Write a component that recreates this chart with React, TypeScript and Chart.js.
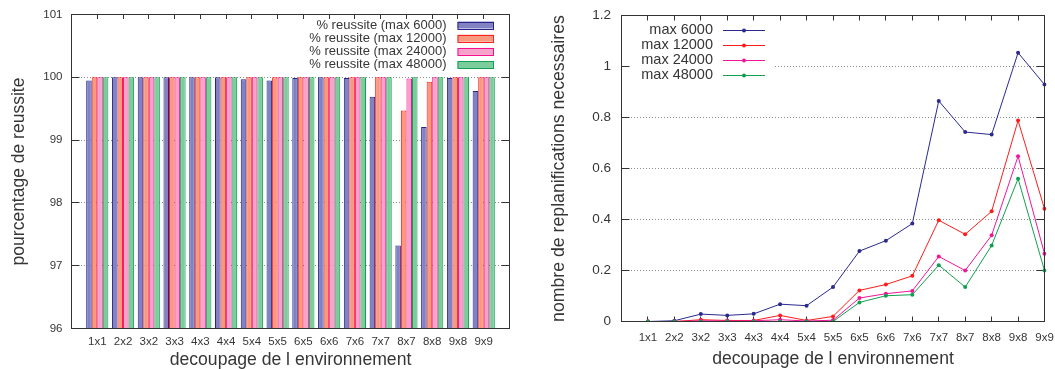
import React, { useEffect, useRef } from 'react';
import { Chart, registerables } from 'chart.js';

Chart.register(...registerables);

const categories = ['1x1', '2x2', '3x2', '3x3', '4x3', '4x4', '5x4', '5x5', '6x5', '6x6', '7x6', '7x7', '8x7', '8x8', '9x8', '9x9'];

const successNames = ['% reussite (max 6000)', '% reussite (max 12000)', '% reussite (max 24000)', '% reussite (max 48000)'];
const success6000 = [99.95, 100, 100, 100, 100, 100, 99.97, 99.95, 99.99, 100, 99.99, 99.69, 97.32, 99.21, 99.99, 99.78];
const success12000 = [100, 100, 100, 100, 100, 100, 100, 100, 100, 100, 100, 100, 99.47, 99.93, 100, 100];
const success24000 = [100, 100, 100, 100, 100, 100, 100, 100, 100, 100, 100, 100, 99.98, 100, 100, 100];
const success48000 = [100, 100, 100, 100, 100, 100, 100, 100, 100, 100, 100, 100, 100, 100, 100, 100];

const replanNames = ['max 6000', 'max 12000', 'max 24000', 'max 48000'];
const replan6000 = [0, 0.003, 0.029, 0.024, 0.03, 0.068, 0.062, 0.135, 0.276, 0.317, 0.384, 0.865, 0.743, 0.733, 1.054, 0.929];
const replan12000 = [0, 0, 0.007, 0.004, 0.004, 0.024, 0.004, 0.02, 0.122, 0.145, 0.179, 0.397, 0.342, 0.432, 0.788, 0.442];
const replan24000 = [0, 0, 0.003, 0.002, 0.003, 0.007, 0.002, 0.005, 0.092, 0.109, 0.12, 0.255, 0.2, 0.338, 0.648, 0.266];
const replan48000 = [0, 0, 0, 0, 0, 0, 0, 0, 0.075, 0.101, 0.105, 0.221, 0.135, 0.298, 0.56, 0.2];

const successAxis = { min: 96, max: 101, step: 1 };
const replanAxis = { min: 0, max: 1.2, step: 0.2 };

const FAMILY = '"Liberation Sans", Arial, Helvetica, sans-serif';
const TEXT = '#363636';

const barBorders = ['#24248c', '#ff2020', '#f5108e', '#14a050'];
const barFills = ['#8282c2', '#f79a80', '#f7a2ca', '#7ccc9c'];
const lineColors = ['#2a2a8e', '#ff1c1c', '#f0169a', '#12a050'];

type LegendSpec = {
  kind: 'box' | 'line';
  names: string[];
  colors: string[];
  fills: string[];
  textRight: number;
  x0: number;
  x1: number;
  rowY0: number;
  rowStep: number;
  fontSize: number;
  blank?: { x1: number; y0: number; y1: number };
};

function makeFramePlugin(o: { xTick: number; yTick: number; bottomTicks: boolean; legend: LegendSpec }) {
  return {
    id: 'frame',
    beforeDatasetsDraw(chart: any) {
      const ctx = chart.ctx;
      const a = chart.chartArea;
      const lg = o.legend;
      if (lg.blank) {
        ctx.save();
        ctx.fillStyle = '#ffffff';
        ctx.fillRect(a.left + 1, lg.blank.y0, lg.blank.x1 - a.left - 1, lg.blank.y1 - lg.blank.y0);
        ctx.restore();
      }
      const xs = chart.scales.x;
      const ys = chart.scales.y;
      ctx.save();
      ctx.strokeStyle = '#333';
      ctx.lineWidth = 1;
      ctx.beginPath();
      ys.ticks.forEach((t: any) => {
        if (t.value <= ys.min + 1e-9 || t.value >= ys.max - 1e-9) return;
        const y = Math.floor(ys.getPixelForValue(t.value)) + 0.5;
        ctx.moveTo(a.left, y);
        ctx.lineTo(a.left + o.yTick, y);
        ctx.moveTo(a.right, y);
        ctx.lineTo(a.right - o.yTick, y);
      });
      (chart.data.labels as string[]).forEach((l, i) => {
        if (!l) return;
        const x = Math.floor(xs.getPixelForValue(i)) + 0.5;
        ctx.moveTo(x, a.top);
        ctx.lineTo(x, a.top + o.xTick);
        if (o.bottomTicks) {
          ctx.moveTo(x, a.bottom);
          ctx.lineTo(x, a.bottom - o.xTick);
        }
      });
      ctx.stroke();
      ctx.restore();
    },
    afterDatasetsDraw(chart: any) {
      const ctx = chart.ctx;
      const a = chart.chartArea;
      ctx.save();
      ctx.strokeStyle = '#333';
      ctx.lineWidth = 1;
      ctx.strokeRect(a.left, a.top, a.right - a.left, a.bottom - a.top);
      const lg = o.legend;
      ctx.font = `${lg.fontSize}px ${FAMILY}`;
      ctx.textAlign = 'right';
      ctx.textBaseline = 'middle';
      lg.names.forEach((name, i) => {
        const y = lg.rowY0 + i * lg.rowStep;
        ctx.fillStyle = TEXT;
        ctx.fillText(name, lg.textRight, y);
        if (lg.kind === 'box') {
          ctx.fillStyle = lg.fills[i];
          ctx.fillRect(lg.x0, y - 3.5, lg.x1 - lg.x0, 7);
          ctx.strokeStyle = lg.colors[i];
          ctx.lineWidth = 1;
          ctx.strokeRect(lg.x0 + 0.5, Math.round(y - 3.5) + 0.5, lg.x1 - lg.x0 - 1, 7);
        } else {
          const yy = Math.round(y) + 0.5;
          ctx.strokeStyle = lg.colors[i];
          ctx.lineWidth = 1;
          ctx.beginPath();
          ctx.moveTo(lg.x0, yy);
          ctx.lineTo(lg.x1, yy);
          ctx.stroke();
          ctx.fillStyle = lg.colors[i];
          ctx.beginPath();
          ctx.arc((lg.x0 + lg.x1) / 2, yy, 2, 0, Math.PI * 2);
          ctx.fill();
        }
      });
      ctx.restore();
    },
  };
}

export default function App() {
  const leftRef = useRef<HTMLCanvasElement>(null);
  const rightRef = useRef<HTMLCanvasElement>(null);

  useEffect(() => {
    document.body.style.margin = '0';
    const successSeries = [success6000, success12000, success24000, success48000];
    const replanSeries = [replan6000, replan12000, replan24000, replan48000];

    const left = new Chart(leftRef.current as HTMLCanvasElement, {
      type: 'bar',
      data: {
        labels: ['', ...categories, ''],
        datasets: successSeries.map((vals, i) => ({
          label: successNames[i],
          data: [null, ...vals, null],
          backgroundColor: barFills[i],
          borderColor: barBorders[i],
          borderWidth: 1,
          categoryPercentage: 0.86,
          barPercentage: 1,
        })),
      },
      options: {
        responsive: false,
        animation: false,
        devicePixelRatio: 1,
        layout: { padding: { top: 14.5, right: 20.5, left: 0, bottom: 0 } },
        plugins: { legend: { display: false }, tooltip: { enabled: false } },
        scales: {
          x: {
            type: 'category',
            offset: false,
            grid: { display: false, drawTicks: false },
            border: { display: false },
            ticks: { autoSkip: false, maxRotation: 0, padding: 6.3, color: TEXT, font: { family: FAMILY, size: 11.5 } },
            title: {
              display: true,
              text: 'decoupage de l environnement',
              color: TEXT,
              font: { family: FAMILY, size: 17.6, lineHeight: 1 },
              padding: { top: 0, bottom: 0.3 },
            },
            afterFit: (s: any) => {
              s.height = 40.5;
              s.paddingLeft = 0;
              s.paddingRight = 0;
            },
          },
          y: {
            min: successAxis.min,
            max: successAxis.max,
            ticks: { stepSize: successAxis.step, padding: 9, color: TEXT, font: { family: FAMILY, size: 11.5 } },
            grid: { color: '#8c8c8c', drawTicks: false, lineWidth: 1 },
            border: { display: false, dash: [1, 2] },
            title: {
              display: true,
              text: 'pourcentage de reussite',
              color: TEXT,
              font: { family: FAMILY, size: 17.5, lineHeight: 1.2 },
              padding: { top: 8.5, bottom: 0 },
            },
            afterFit: (s: any) => {
              s.width = 71.5;
              s.paddingTop = 0;
              s.paddingBottom = 0;
            },
          },
        },
      } as any,
      plugins: [
        makeFramePlugin({
          xTick: 4.5,
          yTick: 8,
          bottomTicks: false,
          legend: {
            kind: 'box',
            names: successNames,
            colors: barBorders,
            fills: barFills,
            textRight: 446.5,
            x0: 457.5,
            x1: 494,
            rowY0: 25,
            rowStep: 13.2,
            fontSize: 13,
          },
        }),
      ],
    });

    const right = new Chart(rightRef.current as HTMLCanvasElement, {
      type: 'line',
      data: {
        labels: ['', ...categories],
        datasets: replanSeries.map((vals, i) => ({
          label: replanNames[i],
          data: [null, ...vals],
          borderColor: lineColors[i],
          backgroundColor: lineColors[i],
          borderWidth: 1,
          pointRadius: 2,
          pointBorderWidth: 0,
          pointBackgroundColor: lineColors[i],
          pointHoverRadius: 0,
          tension: 0,
          fill: false,
          order: 3 - i,
        })),
      },
      options: {
        responsive: false,
        animation: false,
        devicePixelRatio: 1,
        layout: { padding: { top: 15.5, right: 10.5, left: 0, bottom: 0 } },
        plugins: { legend: { display: false }, tooltip: { enabled: false } },
        scales: {
          x: {
            type: 'category',
            offset: false,
            grid: { display: false, drawTicks: false },
            border: { display: false },
            ticks: { autoSkip: false, maxRotation: 0, padding: 9.9, color: TEXT, font: { family: FAMILY, size: 11.5 } },
            title: {
              display: true,
              text: 'decoupage de l environnement',
              color: TEXT,
              font: { family: FAMILY, size: 17.6, lineHeight: 1 },
              padding: { top: 0, bottom: 1.2 },
            },
            afterFit: (s: any) => {
              s.height = 47.5;
              s.paddingLeft = 0;
              s.paddingRight = 0;
            },
          },
          y: {
            min: replanAxis.min,
            max: replanAxis.max,
            ticks: {
              stepSize: replanAxis.step,
              padding: 10.5,
              color: TEXT,
              font: { family: FAMILY, size: 13.5 },
              callback: (v: any) => String(Number(Number(v).toFixed(1))),
            },
            grid: { color: '#8c8c8c', drawTicks: false, lineWidth: 1 },
            border: { display: false, dash: [1, 2] },
            title: {
              display: true,
              text: 'nombre de replanifications necessaires',
              color: TEXT,
              font: { family: FAMILY, size: 17.7, lineHeight: 1.2 },
              padding: { top: 18.4, bottom: 0 },
            },
            afterFit: (s: any) => {
              s.width = 91.5;
              s.paddingTop = 0;
              s.paddingBottom = 0;
            },
          },
        },
      } as any,
      plugins: [
        makeFramePlugin({
          xTick: 5,
          yTick: 8,
          bottomTicks: true,
          legend: {
            kind: 'line',
            names: replanNames,
            colors: lineColors,
            fills: lineColors,
            textRight: 183,
            x0: 193,
            x1: 235,
            rowY0: 29.5,
            rowStep: 15.2,
            fontSize: 14.5,
            blank: { x1: 243, y0: 20, y1: 84 },
          },
        }),
      ],
    });

    return () => {
      left.destroy();
      right.destroy();
    };
  }, []);

  return (
    <div style={{ position: 'relative', width: 1055, height: 369, background: '#ffffff' }}>
      <canvas
        ref={leftRef}
        width={530}
        height={369}
        style={{ position: 'absolute', left: 0, top: 0, width: 530, height: 369 }}
      />
      <canvas
        ref={rightRef}
        width={525}
        height={369}
        style={{ position: 'absolute', left: 530, top: 0, width: 525, height: 369 }}
      />
    </div>
  );
}
